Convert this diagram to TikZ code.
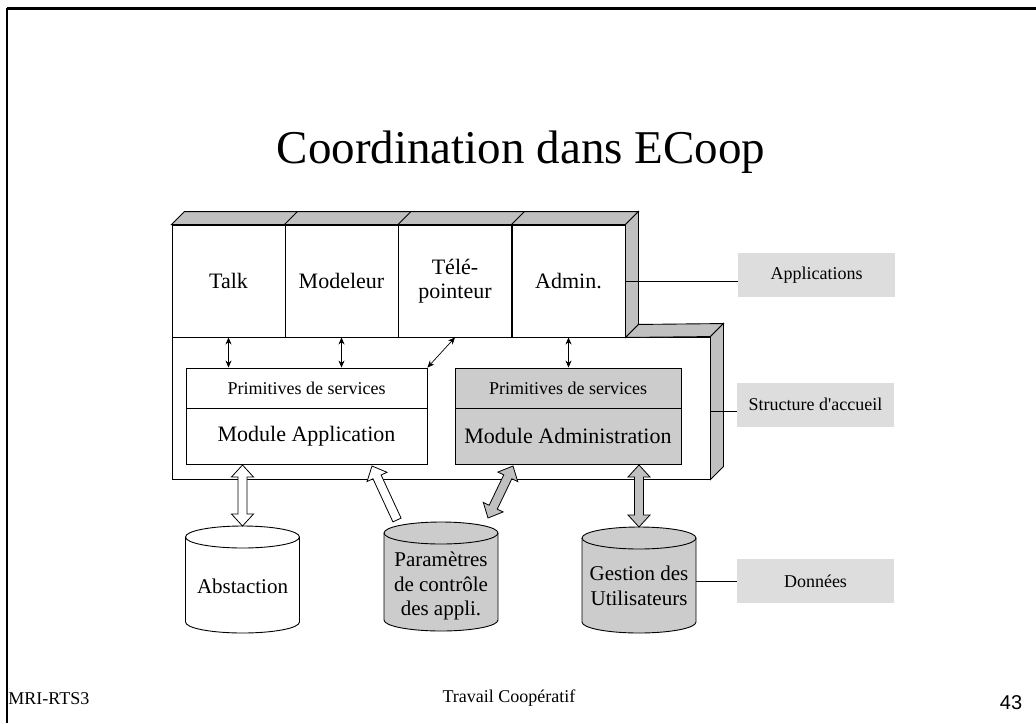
\documentclass[tikz,border=0pt]{standalone}
\usepackage{fontspec}
\setmainfont{Liberation Serif}
\newfontfamily\arialfont{Liberation Sans}
\usetikzlibrary{arrows.meta,calc}
\definecolor{face}{RGB}{192,192,192}
\definecolor{admfill}{RGB}{204,204,204}
\definecolor{lblfill}{RGB}{221,221,221}
\definecolor{cylfill}{RGB}{204,204,204}
\definecolor{arrgrey}{RGB}{192,192,192}
\tikzset{
  appbox/.style={draw, fill=white, minimum width=113pt, minimum height=112pt, inner sep=0pt, align=center, font=\fontsize{22}{24}\selectfont},
  primbox/.style={draw, minimum height=40pt, inner sep=0pt, font=\fontsize{18}{20}\selectfont},
  modbox/.style={draw, minimum height=56pt, inner sep=0pt, font=\fontsize{22}{24}\selectfont},
  lblbox/.style={fill=lblfill, minimum width=157pt, minimum height=44pt, inner sep=0pt, font=\fontsize{18}{20}\selectfont},
  cyltext/.style={align=center, inner sep=0pt, font=\fontsize{21}{24.5}\selectfont},
  smallarr/.style={{Stealth[length=7pt,width=6pt]}-{Stealth[length=7pt,width=6pt]}},
  facestyle/.style={fill=face, draw},
  bigarr/.style={draw, line width=0.8pt, line join=miter}
}
% hollow arrows: #1 fill, #2 tail, #3 tip
\newcommand{\sglarrow}[3]{%
  \filldraw[bigarr, fill=#1]
    ($(#2)!4.5pt!90:(#3)$) -- ($($(#3)!12pt!(#2)$)!4.5pt!-90:(#2)$) --
    ($($(#3)!12pt!(#2)$)!11pt!-90:(#2)$) -- (#3) --
    ($($(#3)!12pt!(#2)$)!11pt!90:(#2)$) --
    ($($(#3)!12pt!(#2)$)!4.5pt!90:(#2)$) -- ($(#2)!4.5pt!-90:(#3)$) -- cycle;}
\newcommand{\dblarrow}[3]{%
  \filldraw[bigarr, fill=#1]
    (#2) -- ($($(#2)!12pt!(#3)$)!11pt!90:(#3)$) --
    ($($(#2)!12pt!(#3)$)!4.5pt!90:(#3)$) --
    ($($(#3)!12pt!(#2)$)!4.5pt!-90:(#2)$) --
    ($($(#3)!12pt!(#2)$)!11pt!-90:(#2)$) -- (#3) --
    ($($(#3)!12pt!(#2)$)!11pt!90:(#2)$) --
    ($($(#3)!12pt!(#2)$)!4.5pt!90:(#2)$) --
    ($($(#2)!12pt!(#3)$)!4.5pt!-90:(#3)$) --
    ($($(#2)!12pt!(#3)$)!11pt!-90:(#3)$) -- cycle;}
% cylinder: #1 name, #2 cx, #3 top y, #4 bottom y, #5 fill
\newcommand{\dbcyl}[5]{%
  \filldraw[fill=#5] (#2-57,#3+11) -- (#2-57,#4-11)
    arc[start angle=180,end angle=360,x radius=57pt,y radius=11pt]
    -- (#2+57,#3+11)
    arc[start angle=0,end angle=180,x radius=57pt,y radius=11pt] -- cycle;
  \draw (#2-57,#3+11) arc[start angle=180,end angle=360,x radius=57pt,y radius=11pt];
  \coordinate (#1-top) at (#2,#3);
  \coordinate (#1-east) at (#2+57,#3+40);}
\begin{document}
\begin{tikzpicture}[x=1pt,y=-1pt,line width=0.9pt]
\useasboundingbox (0,0) rectangle (1036,723);
% frame
\draw[line width=3pt] (7,8.5) -- (1036,8.5);
\draw[line width=2pt] (7,8) -- (7,723);
% title
\node[font=\fontsize{47}{50}\selectfont] (title) at (521,152) {Coordination dans ECoop};
% lower host structure
\node[draw, fill=white, minimum width=538pt, minimum height=142pt, inner sep=0pt] (host) at (441,408) {};
% application boxes
\node[appbox] (talk) at (228.5,281) {Talk};
\node[appbox] (model) at (341.5,281) {Modeleur};
\node[appbox] (tele) at (455,281) {Télé-\\pointeur};
\node[appbox] (admin) at (568.5,281) {Admin.};
% 3D faces
\filldraw[facestyle] (talk.north west) -- ++(13,-13) -- ($(admin.north east)+(13,-13)$) -- (admin.north east) -- cycle;
\draw (model.north west) -- ++(13,-13);
\draw (tele.north west) -- ++(13,-13);
\draw (admin.north west) -- ++(13,-13);
\filldraw[facestyle] (admin.north east) -- ++(13,-13) -- ($(admin.south east)+(13,-13)$) -- (admin.south east) -- cycle;
\filldraw[facestyle] (admin.south east) -- ++(13,-13) -- ($(host.north east)+(13,-13)$) -- (host.north east) -- cycle;
\filldraw[facestyle] (host.north east) -- ++(13,-13) -- ($(host.south east)+(13,-13)$) -- (host.south east) -- cycle;
% modules
\node[primbox, minimum width=241pt] (primA) at (306.5,388) {Primitives de services};
\node[modbox, minimum width=241pt] (modA) at (306.5,436) {Module Application};
\node[primbox, fill=admfill, minimum width=226pt] (primB) at (568,388) {Primitives de services};
\node[modbox, fill=admfill, minimum width=226pt] (modB) at (568,436) {Module Administration};
% small arrows
\draw[smallarr, line width=0.7pt] (talk.south) -- (talk.south |- primA.north);
\draw[smallarr, line width=0.7pt] (model.south) -- (model.south |- primA.north);
\draw[smallarr, line width=0.7pt] (tele.south) -- (primA.north east);
\draw[smallarr, line width=0.7pt] (admin.south) -- (admin.south |- primB.north);
% labels
\node[lblbox] (lapp) at (816.5,275) {Applications};
\node[lblbox] (lstr) at (815.5,404.5) {Structure d\textquotesingle accueil};
\node[lblbox] (ldon) at (815.5,581) {Données};
\draw (admin.east) -- (admin.east -| lapp.west);
\coordinate (hostr) at (710,411);
\draw (hostr) -- (hostr -| lstr.west);
% databases
\dbcyl{abs}{242.5}{526}{633}{white}
\dbcyl{par}{441}{522}{631}{cylfill}
\dbcyl{ges}{639}{527}{633}{cylfill}
\node[cyltext] (absT) at (242.5,586) {Abstaction};
\node[cyltext] (parT) at (441,586) {Paramètres\\de contrôle\\des appli.};
\node[cyltext] (gesT) at (639,586) {Gestion des\\Utilisateurs};
\draw (ldon.west) -- (ldon.west -| ges-east);
% big arrows
\coordinate (absA) at (242.5,465);
\coordinate (parA) at (372,466);
\coordinate (parT1) at (397,520);
\coordinate (parT2) at (488,518);
\coordinate (admA) at (513,466);
\coordinate (gesA) at (639,465);
\dblarrow{white}{abs-top}{absA}
\sglarrow{white}{parT1}{parA}
\dblarrow{arrgrey}{parT2}{admA}
\dblarrow{arrgrey}{ges-top}{gesA}
% footer
\node[anchor=west, font=\fontsize{18}{20}\selectfont, inner sep=0pt] (foot1) at (8,699) {MRI-RTS3};
\node[font=\fontsize{18}{20}\selectfont, inner sep=0pt] (foot2) at (509,698) {Travail Coopératif};
\node[font=\arialfont\fontsize{20}{22}\selectfont, inner sep=0pt] (foot3) at (1011,703) {43};
\end{tikzpicture}
\end{document}
